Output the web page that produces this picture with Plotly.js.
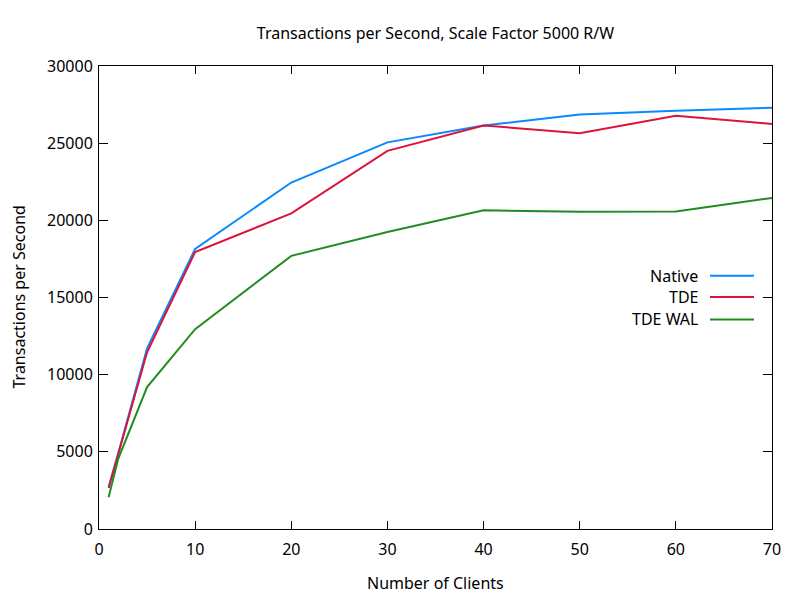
<!DOCTYPE html>
<html>
<head>
<meta charset="utf-8">
<script src="https://cdn.plot.ly/plotly-3.0.1.min.js"></script>
<style>html,body{margin:0;padding:0;background:#fff;}#chart{width:800px;height:600px;}</style>
</head>
<body>
<div id="chart"></div>
<script>
const clients = [1, 2, 5, 10, 20, 30, 40, 50, 60, 70];
const nativeTps = [2700, 4900, 11700, 18150, 22450, 25050, 26150, 26850, 27100, 27300];
const tdeTps = [2650, 4850, 11450, 17950, 20450, 24500, 26150, 25650, 26780, 26250];
const tdeWalTps = [2050, 4550, 9200, 12950, 17700, 19250, 20650, 20550, 20580, 21450];
const seriesNames = ["Native", "TDE", "TDE WAL"];
const seriesColors = ["#0a88ff", "#dc143c", "#228b22"];
const xTicks = [0, 10, 20, 30, 40, 50, 60, 70];
const yTicks = [0, 5000, 10000, 15000, 20000, 25000, 30000];

const FONT = "Noto Sans, Open Sans, sans-serif";
const FS = 16;
const series = [nativeTps, tdeTps, tdeWalTps];
const traces = series.map((ys, i) => ({
  x: clients, y: ys, type: "scatter", mode: "lines",
  name: seriesNames[i], line: {color: seriesColors[i], width: 2}, showlegend: false
}));

// custom gnuplot-style key: text right-aligned, sample line to the right
const keyY = [0.547, 0.501, 0.4527];
const annotations = seriesNames.map((n, i) => ({
  text: n, xref: "paper", yref: "paper", x: 0.893, y: keyY[i],
  xanchor: "right", yanchor: "middle", showarrow: false,
  font: {family: FONT, size: FS, color: "#000"}
}));
const shapes = seriesNames.map((n, i) => ({
  type: "line", xref: "paper", yref: "paper", x0: 0.9079, x1: 0.9733, y0: keyY[i], y1: keyY[i],
  line: {color: seriesColors[i], width: 2}
}));
annotations.push({
  text: "Number of Clients", xref: "paper", yref: "paper", x: 0.5, y: 0,
  xanchor: "center", yanchor: "middle", yshift: -54, showarrow: false,
  font: {family: FONT, size: FS, color: "#000"}
});
annotations.push({
  text: "Transactions per Second", xref: "paper", yref: "paper", x: 0, y: 0.5,
  xanchor: "center", yanchor: "middle", xshift: -81, textangle: -90, showarrow: false,
  font: {family: FONT, size: FS, color: "#000"}
});

const layout = {
  width: 800, height: 600,
  margin: {l: 99, r: 28, t: 66, b: 71},
  paper_bgcolor: "#fff", plot_bgcolor: "#fff",
  font: {family: FONT, size: FS, color: "#000"},
  title: {text: "Transactions per Second, Scale Factor 5000 R/W", x: 0.5, xref: "paper",
          y: 1 - 33 / 600, yref: "container", yanchor: "middle",
          font: {family: FONT, size: FS, color: "#000"}},
  xaxis: {range: [0, 70], tickmode: "array", tickvals: xTicks, ticktext: xTicks.map(String),
          ticks: "inside", ticklen: 8, tickwidth: 1, tickcolor: "#000",
          showline: true, linecolor: "#000", linewidth: 1, mirror: "ticks",
          showgrid: false, zeroline: false, fixedrange: true, ticklabelstandoff: 6,
          tickfont: {family: FONT, size: FS, color: "#000"}},
  yaxis: {range: [0, 30000], tickmode: "array", tickvals: yTicks, ticktext: yTicks.map(String),
          ticks: "inside", ticklen: 9, tickwidth: 1, tickcolor: "#000",
          showline: true, linecolor: "#000", linewidth: 1, mirror: "ticks",
          showgrid: false, zeroline: false, fixedrange: true, ticklabelstandoff: 2,
          tickfont: {family: FONT, size: FS, color: "#000"}},
  annotations: annotations,
  shapes: shapes,
  showlegend: false
};
Plotly.newPlot("chart", traces, layout, {displayModeBar: false, staticPlot: true});
</script>
</body>
</html>
